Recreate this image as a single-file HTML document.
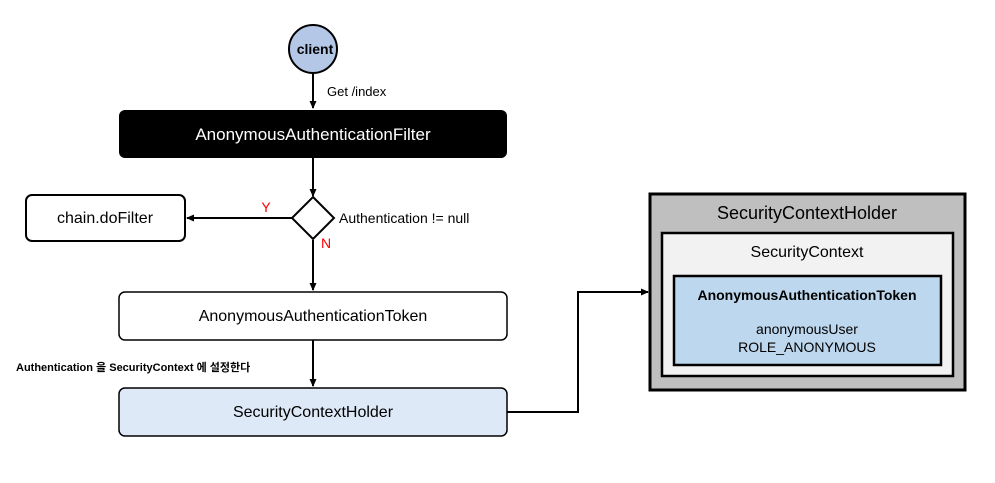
<!DOCTYPE html>
<html><head><meta charset="utf-8"><style>
body{margin:0;background:#fff;}
svg text{font-family:"Liberation Sans","Noto Sans CJK KR",sans-serif;}
</style></head><body>
<svg width="995" height="478" viewBox="0 0 995 478" xmlns="http://www.w3.org/2000/svg">
<defs><marker id="a" markerWidth="8" markerHeight="8" refX="7" refY="4" orient="auto" markerUnits="userSpaceOnUse"><path d="M0,0.5 L8,4 L0,7.5z" fill="#000"/></marker></defs>
<g stroke="#000" stroke-width="2" fill="none">
<line x1="313" y1="73" x2="313" y2="108" marker-end="url(#a)"/>
<line x1="313" y1="158" x2="313" y2="196" marker-end="url(#a)"/>
<line x1="292" y1="218" x2="187" y2="218" marker-end="url(#a)"/>
<line x1="313" y1="240" x2="313" y2="290" marker-end="url(#a)"/>
<line x1="313" y1="340" x2="313" y2="386" marker-end="url(#a)"/>
<polyline points="507,412 578,412 578,292 648,292" marker-end="url(#a)"/>
</g>
<circle cx="313" cy="49" r="24" fill="#b4c7e7" stroke="#000" stroke-width="2"/>
<text x="315" y="54" font-size="14" font-weight="bold" text-anchor="middle">client</text>
<text x="327" y="96" font-size="13">Get /index</text>
<rect x="119" y="110" width="388" height="48" rx="6" fill="#000"/>
<text x="313" y="140" font-size="17" fill="#fff" text-anchor="middle">AnonymousAuthenticationFilter</text>
<polygon points="313,197 334,218 313,239 292,218" fill="#fff" stroke="#000" stroke-width="2"/>
<text x="339" y="223" font-size="14">Authentication != null</text>
<text x="266" y="212" font-size="14" fill="#f00" text-anchor="middle">Y</text>
<text x="326" y="248" font-size="14" fill="#f00" text-anchor="middle">N</text>
<rect x="26" y="195" width="159" height="46" rx="6" fill="#fff" stroke="#000" stroke-width="2"/>
<text x="105" y="223" font-size="16" text-anchor="middle">chain.doFilter</text>
<rect x="119" y="292" width="388" height="48" rx="6" fill="#fff" stroke="#000" stroke-width="1.5"/>
<text x="313" y="321" font-size="16" text-anchor="middle">AnonymousAuthenticationToken</text>
<text x="16" y="371" font-size="11" font-weight="bold">Authentication 을 SecurityContext 에 설정한다</text>
<rect x="119" y="388" width="388" height="48" rx="6" fill="#dde9f6" stroke="#000" stroke-width="1.5"/>
<text x="313" y="417" font-size="16" text-anchor="middle">SecurityContextHolder</text>
<rect x="650" y="194" width="315" height="196" fill="#bfbfbf" stroke="#000" stroke-width="3"/>
<text x="807" y="219" font-size="18" text-anchor="middle">SecurityContextHolder</text>
<rect x="662" y="233" width="291" height="143" fill="#f2f2f2" stroke="#000" stroke-width="2.5"/>
<text x="807" y="257" font-size="16" text-anchor="middle">SecurityContext</text>
<rect x="674" y="276" width="267" height="89" fill="#bdd7ee" stroke="#000" stroke-width="2.5"/>
<text x="807" y="300" font-size="14" font-weight="bold" text-anchor="middle">AnonymousAuthenticationToken</text>
<text x="807" y="334" font-size="14" text-anchor="middle">anonymousUser</text>
<text x="807" y="352" font-size="14" text-anchor="middle">ROLE_ANONYMOUS</text>
</svg>
</body></html>
